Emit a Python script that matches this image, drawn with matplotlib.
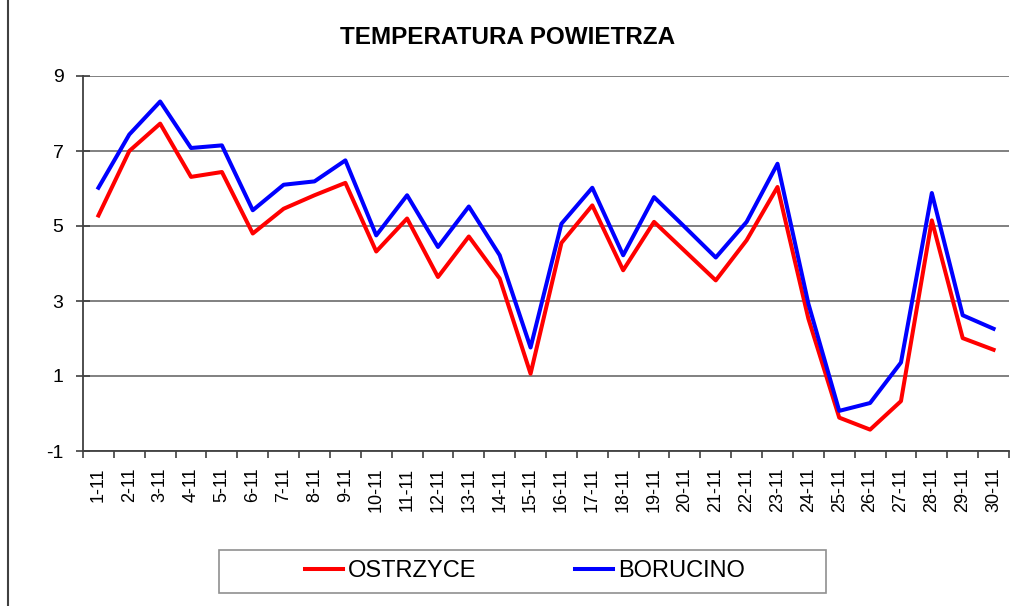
import matplotlib
matplotlib.use("Agg")
import matplotlib.pyplot as plt
from matplotlib.patches import Rectangle
from matplotlib.lines import Line2D
from matplotlib.ticker import FixedLocator, NullFormatter

days = [f"{d}-11" for d in range(1, 31)]
ostrzyce = [5.28, 7.00, 7.73, 6.31, 6.44, 4.80, 5.46, 5.82, 6.15, 4.32,
            5.20, 3.64, 4.72, 3.60, 1.06, 4.55, 5.55, 3.82, 5.11, 4.33,
            3.55, 4.62, 6.04, 2.53, -0.11, -0.43, 0.33, 5.15, 2.01, 1.70]
borucino = [6.02, 7.44, 8.32, 7.08, 7.15, 5.42, 6.10, 6.19, 6.75, 4.75,
            5.82, 4.44, 5.52, 4.22, 1.76, 5.06, 6.02, 4.22, 5.77, 4.97,
            4.16, 5.11, 6.66, 2.93, 0.07, 0.28, 1.36, 5.88, 2.62, 2.26]
yticks = [-1, 1, 3, 5, 7, 9]

plt.rcParams['font.family'] = ['Liberation Sans', 'DejaVu Sans']

W, H = 1024, 606
fig = plt.figure(figsize=(W / 100, H / 100), dpi=100)
ax = fig.add_axes([83 / W, 1 - 451 / H, 926 / W, 375 / H])

x = list(range(len(days)))
ax.plot(x, ostrzyce, color='#ff0000', lw=2.9, label='OSTRZYCE')
ax.plot(x, borucino, color='#0000ff', lw=2.9, label='BORUCINO')

ax.set_xlim(-0.5, len(days) - 0.5)
ax.set_ylim(-1, 9)
ax.set_yticks(yticks)
ax.set_yticklabels([str(v) for v in yticks], fontsize=14)
ax.yaxis.grid(True, color='#808080', lw=1.4)
ax.set_axisbelow(True)

ax.set_xticks(x)
ax.set_xticklabels(days, rotation=90, fontsize=13)
ax.tick_params(axis='x', which='major', length=0, pad=12)
ax.xaxis.set_minor_locator(FixedLocator([i - 0.5 for i in range(len(days) + 1)]))
ax.xaxis.set_minor_formatter(NullFormatter())
ax.tick_params(axis='x', which='minor', length=5, width=1.2, color='#404040')
ax.tick_params(axis='y', direction='inout', length=10, width=1.2, color='#404040', pad=9)

for s in ['top', 'right']:
    ax.spines[s].set_visible(False)
for s in ['left', 'bottom']:
    ax.spines[s].set_color('#404040')
    ax.spines[s].set_linewidth(1.3)

fig.text(508 / W, 1 - 38 / H, 'TEMPERATURA POWIETRZA', ha='center', va='center',
         fontsize=17.5, fontweight='bold')

leg = fig.legend(loc='center', bbox_to_anchor=(525 / W, 1 - 571 / H), ncol=2,
                 frameon=False, prop={'size': 17},
                 handlelength=1.6, handletextpad=0.2, columnspacing=4.2,
                 borderpad=0.3)

fig.patches.append(Rectangle((219 / W, 1 - 593 / H), 607 / W, 43 / H, transform=fig.transFigure,
                             fill=False, edgecolor='#909090', lw=1.2))
fig.lines.append(Line2D([7.5 / W, 7.5 / W], [0, 1], transform=fig.transFigure,
                        color='#404040', lw=1.5))

fig.savefig('out.png', dpi=100)
